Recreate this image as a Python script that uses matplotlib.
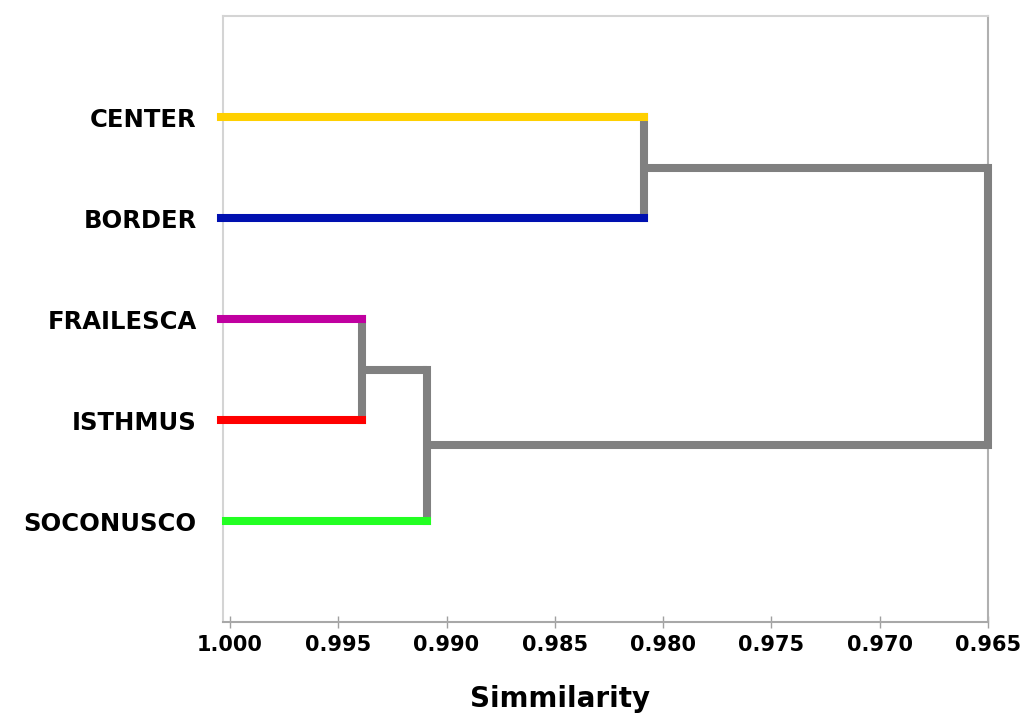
import numpy as np
import matplotlib
matplotlib.use("Agg")
import matplotlib.pyplot as plt

# leaves, top to bottom
labels = ["CENTER", "BORDER", "FRAILESCA", "ISTHMUS", "SOCONUSCO"]
leaf_colors = ["#FFD000", "#0010B0", "#C000A0", "#FF0000", "#22FF22"]

# merges: (child a, child b, similarity) ; ids >= 5 refer to earlier merges
merges = [
    (2, 3, 0.9939),   # FRAILESCA + ISTHMUS
    (5, 4, 0.9909),   # + SOCONUSCO
    (0, 1, 0.9809),   # CENTER + BORDER
    (7, 6, 0.9650),   # root
]
xticks = [1.000, 0.995, 0.990, 0.985, 0.980, 0.975, 0.970, 0.965]

GRAY = "#808080"
LW = 5.8

n = len(labels)
ypos = {i: n - i for i in range(n)}
parent_h = {}
for k, (a, b, h) in enumerate(merges):
    node = n + k
    ypos[node] = (ypos[a] + ypos[b]) / 2
    parent_h[a] = h
    parent_h[b] = h

fig = plt.figure(figsize=(10.24, 7.21), dpi=100)
ax = fig.add_axes([0.2178, 0.1373, 0.747, 0.8405])

# gray links
for k, (a, b, h) in enumerate(merges):
    node = n + k
    ax.plot([h, h], [ypos[a], ypos[b]], color=GRAY, lw=LW,
            solid_capstyle="projecting", zorder=3, clip_on=False)
    if node in parent_h:
        ax.plot([h, parent_h[node]], [ypos[node], ypos[node]], color=GRAY,
                lw=LW, solid_capstyle="butt", zorder=3, clip_on=False)

# coloured leaf branches
starts = [1.0004, 1.0004, 1.0004, 1.0004, 1.0002]
for i in range(n):
    ax.plot([starts[i], parent_h[i]], [ypos[i], ypos[i]], color=leaf_colors[i],
            lw=LW, solid_capstyle="projecting", zorder=4, clip_on=False)

ax.set_xlim(1.00032, 0.965)
ax.set_ylim(0, 6)
ax.set_xticks(xticks)
ax.set_xticklabels([f"{t:.3f}" for t in xticks], fontsize=15,
                   fontweight="bold", family="DejaVu Sans")
ax.set_yticks([ypos[i] for i in range(n)])
ax.set_yticklabels(labels, fontsize=17.5, fontweight="bold",
                   family="DejaVu Sans")
ax.tick_params(axis="y", length=0, pad=19)
ax.tick_params(axis="x", direction="inout", length=8, width=1,
               color="#a0a0a0", pad=5)

for side in ["left", "top", "right"]:
    ax.spines[side].set_color("#d4d4d4")
    ax.spines[side].set_linewidth(1.5)
ax.spines["right"].set_color("#b0b0b0")
ax.spines["bottom"].set_color("#a8a8a8")
ax.spines["bottom"].set_linewidth(1.5)

ax.set_xlabel("Simmilarity", fontsize=20, fontweight="bold",
              family="DejaVu Sans", x=0.44, labelpad=22)

fig.savefig("out.png", dpi=100)
